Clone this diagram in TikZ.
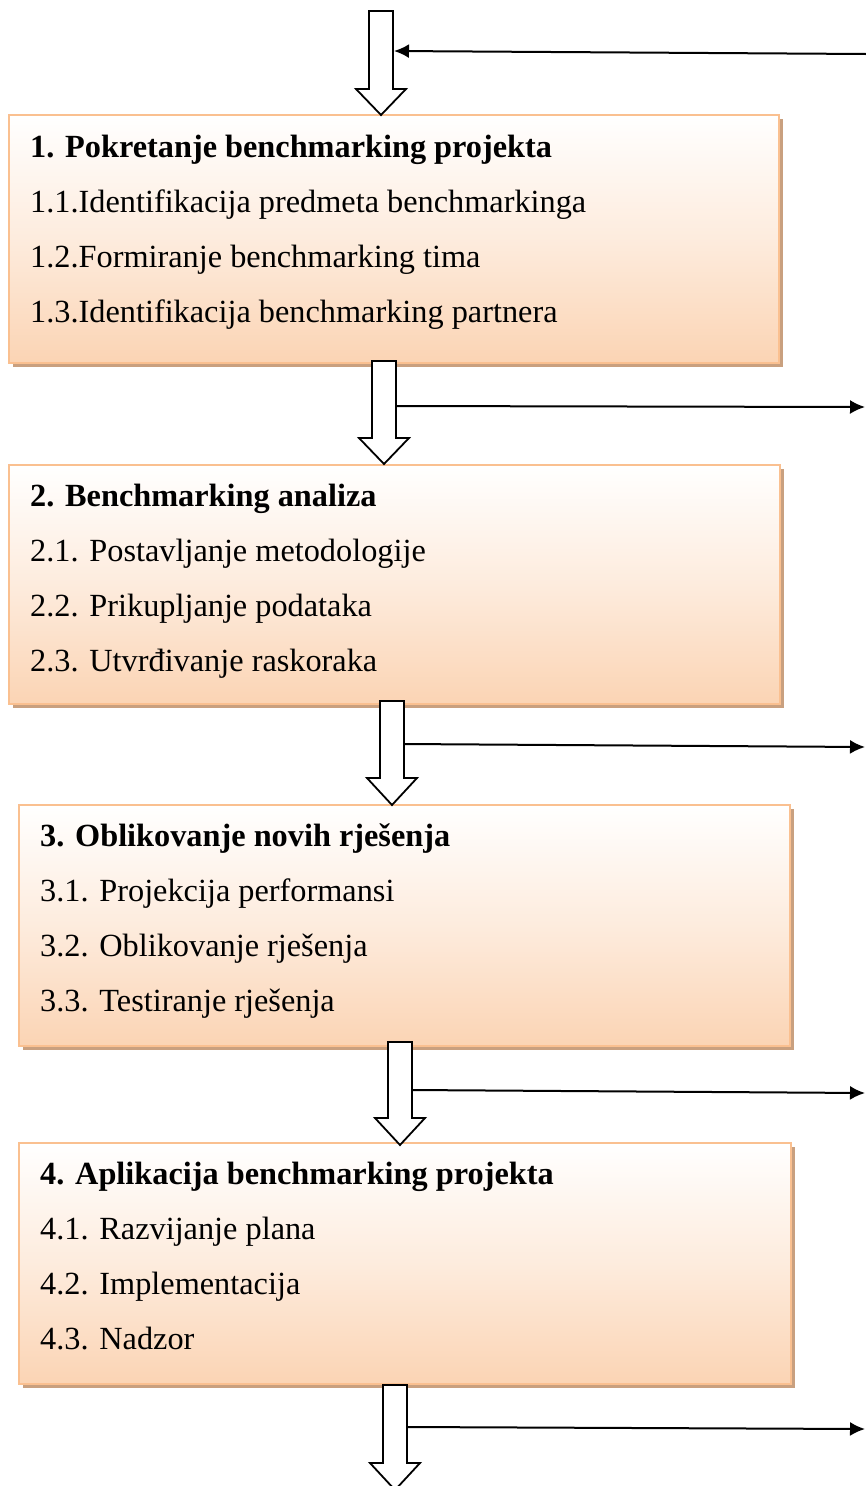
\documentclass[tikz,border=0pt]{standalone}
\usepackage{fontspec}
\setmainfont{Liberation Serif}
\usetikzlibrary{arrows.meta,shadows}
\definecolor{peach}{HTML}{FBD4B4}
\definecolor{peachborder}{HTML}{FAC090}
\definecolor{shadowtan}{HTML}{C9A07F}
\tikzset{
  box/.style={rectangle, draw=peachborder, line width=2pt, top color=white, bottom color=peach,
    middle color=peach!45!white, anchor=north west, inner sep=0pt,
    drop shadow={shadow xshift=3.5pt, shadow yshift=-3.5pt, opacity=1, fill=shadowtan}},
  txt/.style={anchor=base west, inner sep=0pt, font=\fontsize{32.3}{38}\selectfont},
  ttl/.style={txt, font=\fontsize{32.3}{38}\selectfont\bfseries},
  blk/.style={draw=black, line width=1.8pt, fill=white, line join=miter},
  thin/.style={draw=black, line width=2pt, -{Latex[length=15pt,width=14pt]}}
}
\newcommand{\blkarrow}[5]{% name, center x, top, head start, tip
  \draw[blk] (#2-12,#3) -- (#2+12,#3) -- (#2+12,#4) -- (#2+25,#4) -- (#2,#5) -- (#2-25,#4) -- (#2-12,#4) -- cycle;
  \coordinate (#1R) at (#2+12,{(#3+#4)/2});
}
\begin{document}
\begin{tikzpicture}[x=1pt,y=-1pt]
\useasboundingbox (0,0) rectangle (865,1486);
% boxes
\node[box, minimum width=770pt, minimum height=248pt] (b1) at (8,114) {};
\node[box, minimum width=771pt, minimum height=239pt] (b2) at (8,464) {};
\node[box, minimum width=771pt, minimum height=241pt] (b3) at (18,804) {};
\node[box, minimum width=772pt, minimum height=241pt] (b4) at (18,1142) {};
% texts
\node[ttl] (t10) at (30,157) {1. Pokretanje benchmarking projekta};
\node[txt] (t11) at (30,212) {1.1.Identifikacija predmeta benchmarkinga};
\node[txt] (t12) at (30,267) {1.2.Formiranje benchmarking tima};
\node[txt] (t13) at (30,322) {1.3.Identifikacija benchmarking partnera};
\node[ttl] (t20) at (30,506) {2. Benchmarking analiza};
\node[txt] (t21) at (30,561) {2.1. Postavljanje metodologije};
\node[txt] (t22) at (30,616) {2.2. Prikupljanje podataka};
\node[txt] (t23) at (30,671) {2.3. Utvrđivanje raskoraka};
\node[ttl] (t30) at (40,846) {3. Oblikovanje novih rješenja};
\node[txt] (t31) at (40,901) {3.1. Projekcija performansi};
\node[txt] (t32) at (40,956) {3.2. Oblikovanje rješenja};
\node[txt] (t33) at (40,1011) {3.3. Testiranje rješenja};
\node[ttl] (t40) at (40,1184) {4. Aplikacija benchmarking projekta};
\node[txt] (t41) at (40,1239) {4.1. Razvijanje plana};
\node[txt] (t42) at (40,1294) {4.2. Implementacija};
\node[txt] (t43) at (40,1349) {4.3. Nadzor};
% block arrows
\blkarrow{a0}{381}{11}{89}{115}
\blkarrow{a1}{384}{361}{438}{464}
\blkarrow{a2}{392}{701}{778}{805}
\blkarrow{a3}{400}{1042}{1118}{1145}
\blkarrow{a4}{395}{1385}{1463}{1490}
% thin connectors
\coordinate (e0) at (866,54);
\coordinate (s0) at (394,51);
\coordinate (s1) at (396,406);
\coordinate (e1) at (865,407);
\coordinate (s2) at (404,744);
\coordinate (e2) at (865,747);
\coordinate (s3) at (412,1090);
\coordinate (e3) at (865,1093);
\coordinate (s4) at (407,1427);
\coordinate (e4) at (865,1429);
\draw[thin] (e0) -- (s0);
\draw[thin] (s1) -- (e1);
\draw[thin] (s2) -- (e2);
\draw[thin] (s3) -- (e3);
\draw[thin] (s4) -- (e4);
\end{tikzpicture}
\end{document}
